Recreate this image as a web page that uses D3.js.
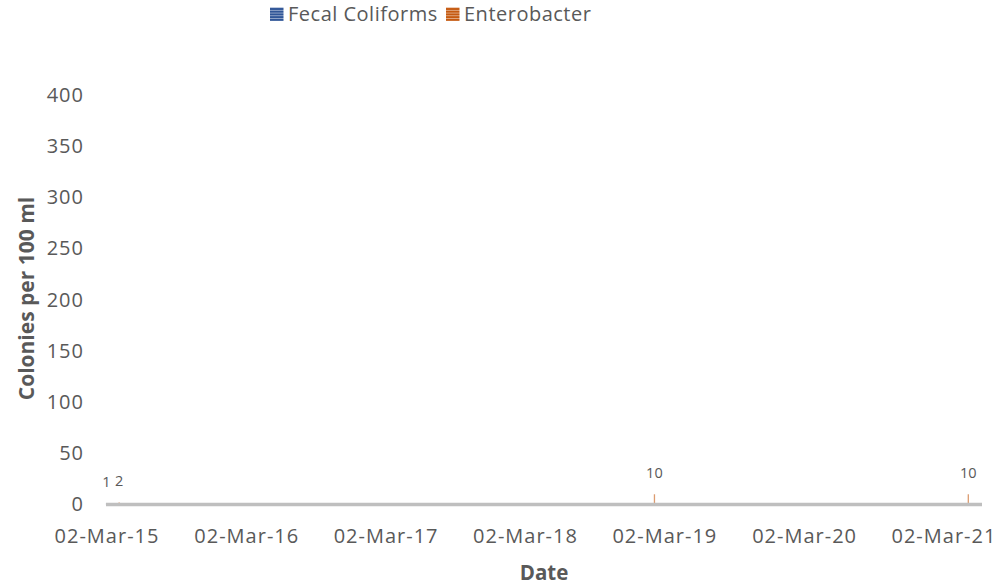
<!DOCTYPE html>
<html><head><meta charset="utf-8">
<script src="https://cdn.jsdelivr.net/npm/d3@7"></script>
<style>body{margin:0;background:#fff}svg{display:block}text{font-family:"Open Sans",sans-serif;fill:#595959}</style>
</head><body><svg id="c" width="1007" height="588"></svg>
<script>
const seriesNames = ["Fecal Coliforms", "Enterobacter"];
const seriesColors = ["#2F5597", "#C55A11"];
const fecalDates = ["2015-03-02"];
const fecalValues = [1];
const enteroDates = ["2015-04-04", "2019-02-04", "2021-05-06"];
const enteroValues = [2, 10, 10];
const yTicks = [0, 50, 100, 150, 200, 250, 300, 350, 400];
const xTickDates = ["2015-03-02","2016-03-02","2017-03-02","2018-03-02","2019-03-02","2020-03-02","2021-03-02"];

const parse = d3.utcParse("%Y-%m-%d");
const svg = d3.select("#c");
const x = d3.scaleUtc().domain([parse("2015-03-02"), parse("2021-06-11")]).range([106.5, 982]);
const y = d3.scaleLinear().domain([0, 400]).range([504.5, 95]);

// patterns
const defs = svg.append("defs");
seriesColors.forEach((c, i) => {
  const p = defs.append("pattern").attr("id", "p" + i).attr("width", 4).attr("height", 2.7).attr("patternUnits", "userSpaceOnUse");
  p.append("rect").attr("width", 4).attr("height", 2.7).attr("fill", c);
  p.append("rect").attr("y", 1.9).attr("width", 4).attr("height", 0.8).attr("fill", "#fff").attr("opacity", 0.55);
});

// y axis labels
const ya = svg.append("g").attr("transform", "translate(84,0)")
  .call(d3.axisLeft(y).tickValues(yTicks).tickSize(0).tickPadding(0));
ya.select(".domain").remove();
ya.selectAll("text").style("font-size", "20px").style("letter-spacing", "1px").attr("fill", "#595959").attr("text-anchor", "end");

// x axis labels
const xa = svg.append("g").attr("transform", "translate(0,529)")
  .call(d3.axisBottom(x).tickValues(xTickDates.map(parse)).tickFormat(d3.utcFormat("%d-%b-%y")).tickSize(0).tickPadding(0));
xa.select(".domain").remove();
xa.selectAll("text").style("font-size", "20px").style("letter-spacing", "1px").attr("fill", "#595959").attr("dy", "0.71em");

// bars
const data = [
  ...fecalDates.map((d, i) => ({s: 0, d: parse(d), v: fecalValues[i]})),
  ...enteroDates.map((d, i) => ({s: 1, d: parse(d), v: enteroValues[i]}))
];
svg.append("g").selectAll("rect").data(data).join("rect")
  .attr("x", d => x(d.d) - 0.6).attr("width", 1.3)
  .attr("y", d => y(d.v)).attr("height", d => y(0) - y(d.v))
  .attr("fill", d => seriesColors[d.s]).attr("opacity", 0.6);

// baseline
svg.append("line").attr("x1", x.range()[0] - 0.5).attr("x2", x.range()[1]).attr("y1", y(0)).attr("y2", y(0))
  .attr("stroke", "#BFBFBF").attr("stroke-width", 3.4);

// data labels
svg.append("g").selectAll("text").data(data).join("text")
  .attr("x", d => x(d.d)).attr("y", d => y(d.v) - 16)
  .attr("text-anchor", "middle").style("font-size", "14.5px").attr("fill", "#404040")
  .text(d => d.v);

// axis titles
svg.append("text").attr("transform", "translate(33.5,298.5) rotate(-90)").attr("text-anchor", "middle")
  .style("font-size", "21px").style("font-weight", "bold").text("Colonies per 100 ml");
svg.append("text").attr("x", 544).attr("y", 580).attr("text-anchor", "middle")
  .style("font-size", "20.5px").style("font-weight", "bold").text("Date");

// legend
const leg = svg.append("g");
const lx = [270, 446];
seriesNames.forEach((n, i) => {
  leg.append("rect").attr("x", lx[i]).attr("y", 7.5).attr("width", 13.5).attr("height", 13.5).attr("fill", "url(#p" + i + ")");
  leg.append("text").attr("x", lx[i] + 18).attr("y", 21).style("font-size", "20px").style("letter-spacing", "0.5px").text(n);
});
</script></body></html>
